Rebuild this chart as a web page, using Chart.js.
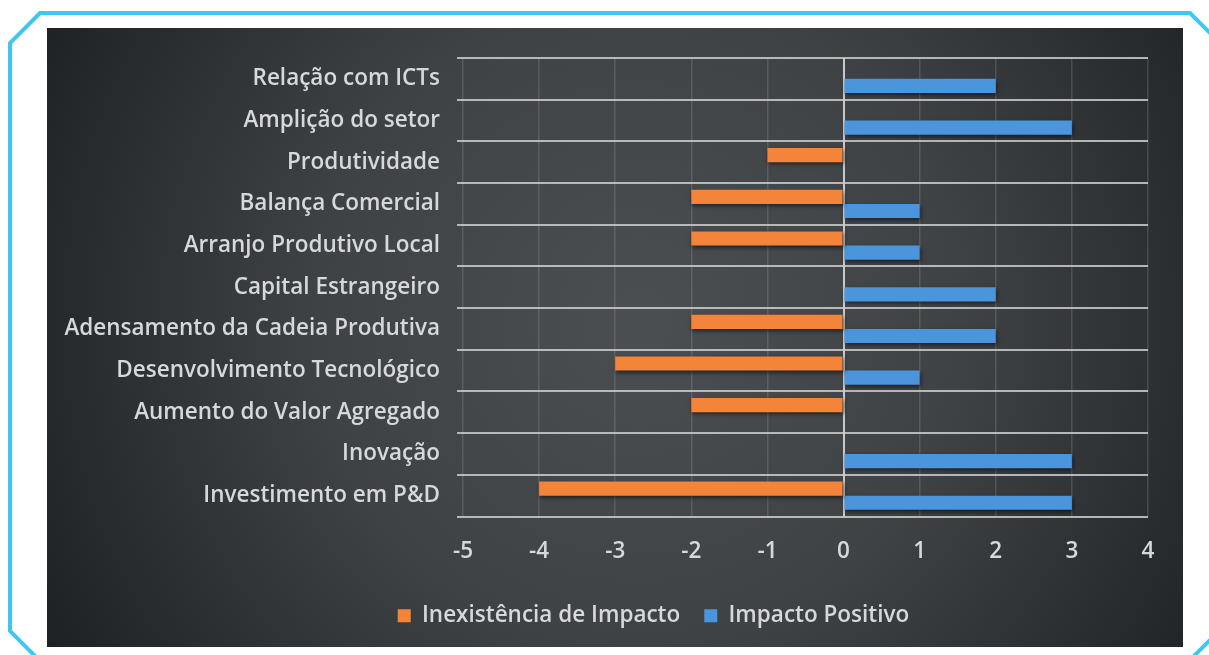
<!DOCTYPE html>
<html><head><meta charset="utf-8">
<script src="https://cdn.jsdelivr.net/npm/chart.js@4.4.1/dist/chart.umd.min.js"></script>
<style>html,body{margin:0;padding:0;background:#fff;}#wrap{width:1209px;height:655px;position:relative;}</style>
</head><body><div id="wrap"><canvas id="c" width="1209" height="655"></canvas></div>
<script>
const categories = ["Relação com ICTs","Amplição do setor","Produtividade","Balança Comercial","Arranjo Produtivo Local","Capital Estrangeiro","Adensamento da Cadeia Produtiva","Desenvolvimento Tecnológico","Aumento do Valor Agregado","Inovação","Investimento em P&D"];
const inexistencia = [0,0,-1,-2,-2,0,-2,-3,-2,0,-4];
const positivo = [2,3,0,1,1,2,2,1,0,3,3];
const xTicks = [-5,-4,-3,-2,-1,0,1,2,3,4];
const seriesNames = ["Inexistência de Impacto","Impacto Positivo"];

const FONT = "'Open Sans', Lato, sans-serif";
const TXT = "#d6d8da";
const FS = 22.5;

const bgPlugin = {
  id:'bg',
  afterLayout(chart){
    const l = chart.legend;
    if (l) { l.left += 56; l.right += 56; }
  },
  beforeDraw(chart){
    const ctx = chart.ctx;
    ctx.save();
    ctx.fillStyle = '#ffffff';
    ctx.fillRect(0,0,1209,655);
    const g = ctx.createRadialGradient(640,320,20,640,320,700);
    g.addColorStop(0,'#4b4e51');
    g.addColorStop(0.45,'#3f4245');
    g.addColorStop(1,'#1c1f22');
    ctx.fillStyle = g;
    ctx.fillRect(47,28,1136,619);
    ctx.strokeStyle = '#41c6f2';
    ctx.lineWidth = 4;
    ctx.beginPath();
    ctx.moveTo(36,657);
    ctx.lineTo(10,631);
    ctx.lineTo(10,43);
    ctx.lineTo(40,13);
    ctx.lineTo(1190,13);
    ctx.lineTo(1230,53);
    ctx.lineTo(1230,620);
    ctx.lineTo(1193,657);
    ctx.stroke();
    ctx.restore();
  },
  beforeDatasetsDraw(chart){
    const ctx = chart.ctx;
    ctx.save();
    ctx.shadowColor = 'rgba(0,0,0,0.55)';
    ctx.shadowBlur = 4;
    ctx.shadowOffsetX = 1;
    ctx.shadowOffsetY = 2;
  },
  afterDatasetsDraw(chart){ chart.ctx.restore(); }
};

new Chart(document.getElementById('c'), {
  type:'bar',
  data:{
    labels: categories,
    datasets:[
      {label:seriesNames[0], data:inexistencia, backgroundColor:'#f4843a', borderWidth:0},
      {label:seriesNames[1], data:positivo, backgroundColor:'#4b95dc', borderWidth:0}
    ]
  },
  options:{
    indexAxis:'y',
    responsive:false,
    animation:false,
    datasets:{bar:{categoryPercentage:0.68, barPercentage:1.0}},
    layout:{padding:{left:47, right:61, top:58, bottom:18}},
    plugins:{
      legend:{
        position:'bottom',
        labels:{color:TXT, font:{family:FONT, size:FS, weight:'600'}, boxWidth:13, boxHeight:13, padding:24,
          generateLabels(chart){
            return chart.data.datasets.map((d,i)=>({text:d.label, fillStyle:d.backgroundColor, strokeStyle:d.backgroundColor, lineWidth:0, fontColor:TXT, datasetIndex:i}));
          }
        }
      },
      tooltip:{enabled:false}
    },
    scales:{
      x:{
        min:-5, max:4,
        afterBuildTicks(s){ s.ticks = xTicks.map(v=>({value:v})); },
        ticks:{color:TXT, font:{family:FONT, size:FS, weight:'600'}, padding:22},
        grid:{color:(c)=> c.tick && c.tick.value===0 ? 'rgba(215,215,215,0.9)' : 'rgba(200,200,200,0.18)', lineWidth:(c)=> c.tick && c.tick.value===0 ? 2 : 1.5, drawTicks:false},
        border:{display:false},
        afterFit(s){ s.height = 64; }
      },
      y:{
        offset:true,
        ticks:{color:TXT, font:{family:FONT, size:FS, weight:'600'}, padding:17},
        grid:{offset:true, color:'rgba(205,205,205,0.85)', lineWidth:2, tickLength:6, tickColor:'rgba(205,205,205,0.85)'},
        border:{display:false},
        afterFit(s){ s.width = 416; }
      }
    }
  },
  plugins:[bgPlugin]
});
</script></body></html>
